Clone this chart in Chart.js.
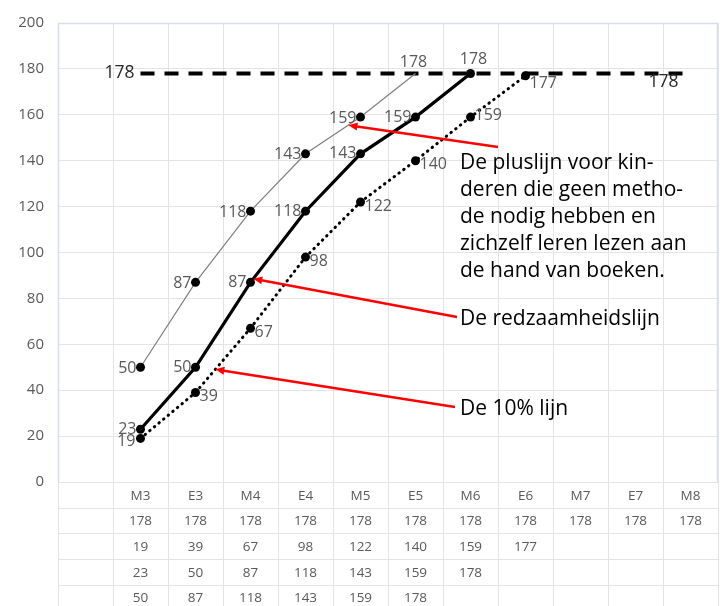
<!DOCTYPE html>
<html>
<head>
<meta charset="utf-8">
<script src="https://cdn.jsdelivr.net/npm/chart.js@4.4.1/dist/chart.umd.min.js"></script>
<style>
  html, body { margin: 0; padding: 0; background: #fff; }
  #wrap { position: relative; width: 724px; height: 606px; overflow: hidden; }
  canvas { position: absolute; left: 0; top: 0; }
  .note { position: absolute; font-family: "Open Sans", sans-serif; font-size: 21px; line-height: 27px; color: #000; white-space: nowrap; }
</style>
</head>
<body>
<div id="wrap">
  <canvas id="c" width="724" height="606"></canvas>
  <div class="note" style="left:460px; top:148px;">De pluslijn voor kin-<br>deren die geen metho-<br>de nodig hebben en<br>zichzelf leren lezen aan<br>de hand van boeken.</div>
  <div class="note" style="left:460px; top:304px;">De redzaamheidslijn</div>
  <div class="note" style="left:460px; top:394px;">De 10% lijn</div>
</div>
<script>
// ---- data ----
const categories = ['', 'M3', 'E3', 'M4', 'E4', 'M5', 'E5', 'M6', 'E6', 'M7', 'E7', 'M8'];
const target178  = [null, 178, 178, 178, 178, 178, 178, 178, 178, 178, 178, 178];
const tienProcent = [null, 19, 39, 67, 98, 122, 140, 159, 177, null, null, null];
const redzaam    = [null, 23, 50, 87, 118, 143, 159, 178, null, null, null, null];
const pluslijn   = [null, 50, 87, 118, 143, 159, 178, null, null, null, null, null];
const yTicks = [0, 20, 40, 60, 80, 100, 120, 140, 160, 180, 200];
const tableRows = [target178, tienProcent, redzaam, pluslijn];

const GRID = '#e4e4e4';
const TXT = '#595959';

// ---- plugins ----
const labelPlugin = {
  id: 'pointLabels',
  afterDatasetsDraw(chart) {
    const ctx = chart.ctx;
    chart.data.datasets.forEach((ds, di) => {
      if (!ds.lbl) return;
      const meta = chart.getDatasetMeta(di);
      meta.data.forEach((pt, i) => {
        const v = ds.data[i];
        if (v === null || v === undefined) return;
        if (ds.lbl.only && ds.lbl.only.indexOf(i) < 0) return;
        const o = Object.assign({}, ds.lbl, (ds.lbl.at && ds.lbl.at[i]) || {});
        ctx.save();
        ctx.font = o.font;
        ctx.fillStyle = o.color;
        ctx.textAlign = o.align;
        ctx.textBaseline = 'middle';
        ctx.fillText(String(v), pt.x + o.dx, pt.y + o.dy);
        ctx.restore();
      });
    });
  }
};

const tablePlugin = {
  id: 'dataTable',
  afterDraw(chart) {
    const ctx = chart.ctx;
    const x = chart.scales.x;
    const area = chart.chartArea;
    const top = area.bottom;
    const rowH = 25.7;
    const nRows = 1 + tableRows.length;
    const colW = (area.right - area.left) / categories.length;
    ctx.save();
    ctx.strokeStyle = GRID;
    ctx.lineWidth = 1;
    for (let r = 1; r <= nRows; r++) {
      const y = Math.round(top + r * rowH) + 0.5;
      ctx.beginPath(); ctx.moveTo(area.left, y); ctx.lineTo(area.right, y); ctx.stroke();
    }
    for (let c = 0; c <= categories.length; c++) {
      const xx = Math.round(area.left + c * colW) + 0.5;
      ctx.beginPath(); ctx.moveTo(xx, top); ctx.lineTo(xx, chart.height); ctx.stroke();
    }
    ctx.fillStyle = TXT;
    ctx.font = '13.5px "Open Sans", sans-serif';
    ctx.textAlign = 'center';
    ctx.textBaseline = 'middle';
    categories.forEach((cat, i) => {
      const cx = x.getPixelForValue(i);
      if (cat) ctx.fillText(cat, cx, top + rowH * 0.5 + 1);
      tableRows.forEach((row, r) => {
        const v = row[i];
        if (v !== null && v !== undefined) ctx.fillText(String(v), cx, top + rowH * (r + 1.5) + 1);
      });
    });
    ctx.restore();
  }
};

const borderPlugin = {
  id: 'plotBorder',
  beforeDatasetsDraw(chart) {
    const { ctx, chartArea: a } = chart;
    ctx.save();
    ctx.strokeStyle = '#d6deec';
    ctx.lineWidth = 1.5;
    ctx.beginPath();
    ctx.moveTo(a.left + 0.5, a.bottom);
    ctx.lineTo(a.left + 0.5, a.top + 0.5);
    ctx.lineTo(a.right - 0.5, a.top + 0.5);
    ctx.lineTo(a.right - 0.5, a.bottom);
    ctx.stroke();
    ctx.restore();
  }
};

// arrows anchored on a dataset segment (dataset index, start index, fraction), tail in pixels
const arrows = [
  { ds: 1, i: 4, f: 0.78, tail: [498, 147] },
  { ds: 2, i: 3, f: 0.05, tail: [457, 317] },
  { ds: 3, i: 2, f: 0.36, tail: [455, 407] }
];
const arrowPlugin = {
  id: 'arrows',
  afterDatasetsDraw(chart) {
    const ctx = chart.ctx;
    arrows.forEach(a => {
      const meta = chart.getDatasetMeta(a.ds);
      const p0 = meta.data[a.i], p1 = meta.data[a.i + 1];
      const tx = p0.x + (p1.x - p0.x) * a.f;
      const ty = p0.y + (p1.y - p0.y) * a.f;
      const [sx, sy] = a.tail;
      const ang = Math.atan2(ty - sy, tx - sx);
      const hl = 9, hw = 4;
      ctx.save();
      ctx.strokeStyle = '#ff0000';
      ctx.fillStyle = '#ff0000';
      ctx.lineWidth = 2.5;
      ctx.beginPath();
      ctx.moveTo(sx, sy);
      ctx.lineTo(tx - Math.cos(ang) * (hl - 2), ty - Math.sin(ang) * (hl - 2));
      ctx.stroke();
      ctx.beginPath();
      ctx.moveTo(tx, ty);
      ctx.lineTo(tx - Math.cos(ang) * hl + Math.sin(ang) * hw, ty - Math.sin(ang) * hl - Math.cos(ang) * hw);
      ctx.lineTo(tx - Math.cos(ang) * hl - Math.sin(ang) * hw, ty - Math.sin(ang) * hl + Math.cos(ang) * hw);
      ctx.closePath();
      ctx.fill();
      ctx.restore();
    });
  }
};

const smallFont = '16px "Open Sans", sans-serif';

new Chart(document.getElementById('c'), {
  type: 'line',
  data: {
    labels: categories,
    datasets: [
      {
        label: 'doel',
        data: target178,
        borderColor: '#000',
        borderWidth: 4,
        borderDash: [14, 10],
        pointRadius: 0,
        order: 4,
        lbl: { font: '17.5px "Open Sans", sans-serif', color: '#262626', align: 'right', dx: -6, dy: 0, only: [1, 11],
               at: { 11: { dx: -12, dy: 9 } } }
      },
      {
        label: 'pluslijn',
        data: pluslijn,
        borderColor: '#7f7f7f',
        borderWidth: 1.2,
        pointRadius: [0, 4.5, 4.5, 4.5, 4.5, 4.5, 0],
        pointBackgroundColor: '#000',
        pointBorderWidth: 0,
        order: 3,
        lbl: { font: smallFont, color: TXT, align: 'right', dx: -4, dy: 1, at: { 6: { align: 'center', dx: -2, dy: -11 } } }
      },
      {
        label: 'redzaamheidslijn',
        data: redzaam,
        borderColor: '#000',
        borderWidth: 3.2,
        pointRadius: 4.5,
        pointBackgroundColor: '#000',
        pointBorderWidth: 0,
        order: 2,
        lbl: { font: smallFont, color: TXT, align: 'right', dx: -4, dy: 0, at: { 7: { align: 'center', dx: 3, dy: -14 } } }
      },
      {
        label: '10% lijn',
        data: tienProcent,
        borderColor: '#000',
        borderWidth: 3,
        borderDash: [0.5, 5.5],
        borderCapStyle: 'round',
        pointRadius: 4.5,
        pointBackgroundColor: '#000',
        pointBorderWidth: 0,
        order: 1,
        lbl: { font: smallFont, color: TXT, align: 'left', dx: 4, dy: 4,
               at: { 1: { align: 'right', dx: -5, dy: 3 }, 7: { dy: -2 }, 8: { dy: 8 } } }
      }
    ]
  },
  options: {
    responsive: false,
    animation: false,
    devicePixelRatio: 1,
    layout: { padding: { top: 16, right: 6, left: 0, bottom: 0 } },
    plugins: { legend: { display: false }, tooltip: { enabled: false } },
    scales: {
      x: {
        type: 'category',
        offset: true,
        grid: { offset: true, color: GRID, drawTicks: false },
        border: { display: false },
        ticks: { display: false },
        afterFit(scale) { scale.height = 124; }
      },
      y: {
        min: 0, max: 200,
        afterBuildTicks(scale) { scale.ticks = yTicks.map(v => ({ value: v })); },
        grid: { color: GRID, drawTicks: false },
        border: { display: false },
        ticks: { color: TXT, font: { family: 'Open Sans', size: 15 }, padding: 14 },
        afterFit(scale) { scale.width = 58; }
      }
    }
  },
  plugins: [borderPlugin, labelPlugin, arrowPlugin, tablePlugin]
});
</script>
</body>
</html>
